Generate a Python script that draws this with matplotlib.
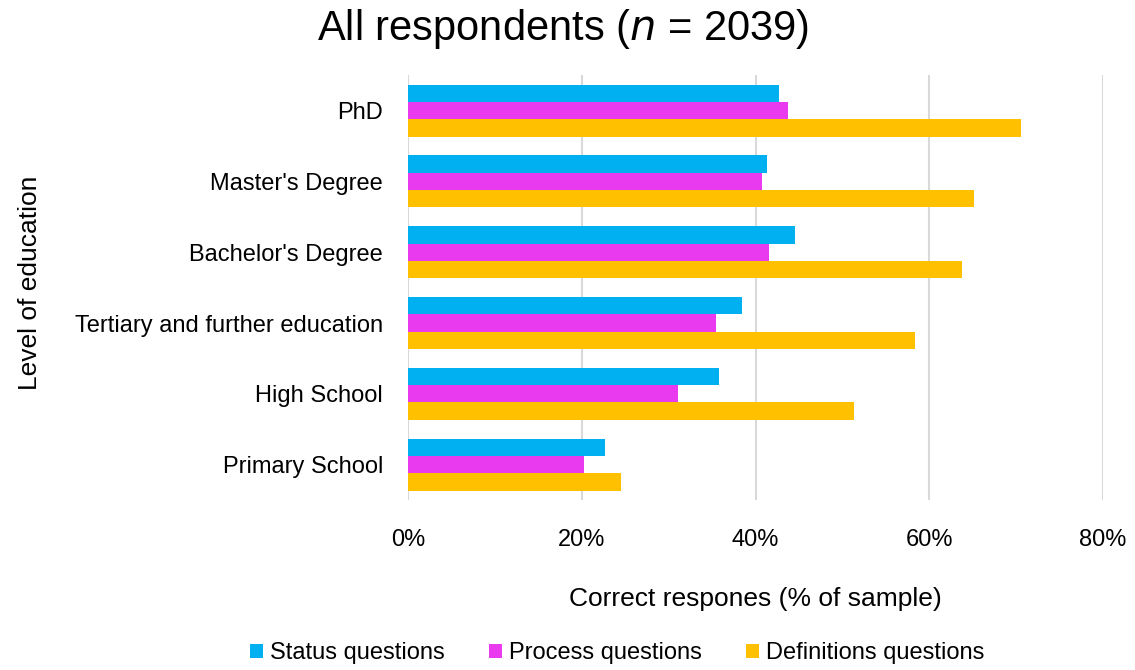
import matplotlib.pyplot as plt
import numpy as np
from matplotlib.ticker import PercentFormatter

plt.rcParams['font.family'] = ['Liberation Sans', 'DejaVu Sans']

levels = ["PhD", "Master's Degree", "Bachelor's Degree",
          "Tertiary and further education", "High School", "Primary School"]
status = [42.7, 41.3, 44.5, 38.4, 35.8, 22.7]
process = [43.7, 40.8, 41.5, 35.4, 31.1, 20.2]
definitions = [70.6, 65.1, 63.8, 58.4, 51.3, 24.5]
series_names = ["Status questions", "Process questions", "Definitions questions"]
colors = ["#00B0F0", "#EA3AF0", "#FFC000"]

fig = plt.figure(figsize=(11.35, 6.7), dpi=100)
ax = fig.add_axes([0.3595, 0.2537, 0.6123, 0.634])

y = np.arange(len(levels))
h = 0.245
for k, (vals, name, c) in enumerate(zip([status, process, definitions], series_names, colors)):
    ax.barh(y + (k - 1) * h, vals, height=h, color=c, label=name, zorder=3)

ax.set_xlim(0, 80)
ax.set_ylim(5.5, -0.5)
ax.set_xticks([0, 20, 40, 60, 80])
ax.xaxis.set_major_formatter(PercentFormatter(decimals=0))
ax.set_yticks(y)
ax.set_yticklabels(levels)
ax.tick_params(axis='both', length=0, labelsize=17)
ax.tick_params(axis='y', pad=18)
ax.tick_params(axis='x', pad=21)
ax.grid(axis='x', color='#d9d9d9', linewidth=1.5, zorder=0)
for s in ax.spines.values():
    s.set_visible(False)

fig.suptitle("All respondents ($\\it{n}$ = 2039)", x=0.496, y=0.99, fontsize=30, va='top')
ax.set_xlabel("Correct respones (% of sample)", fontsize=19, labelpad=26)
fig.text(0.026, 0.578, "Level of education", rotation=90, fontsize=19, ha='center', va='center')

fig.legend(loc='center', bbox_to_anchor=(0.544, 0.025), ncol=3, frameon=False, fontsize=17,
           handlelength=0.55, handleheight=0.55, handletextpad=0.3, columnspacing=1.86)

fig.savefig("out.png", dpi=100)
